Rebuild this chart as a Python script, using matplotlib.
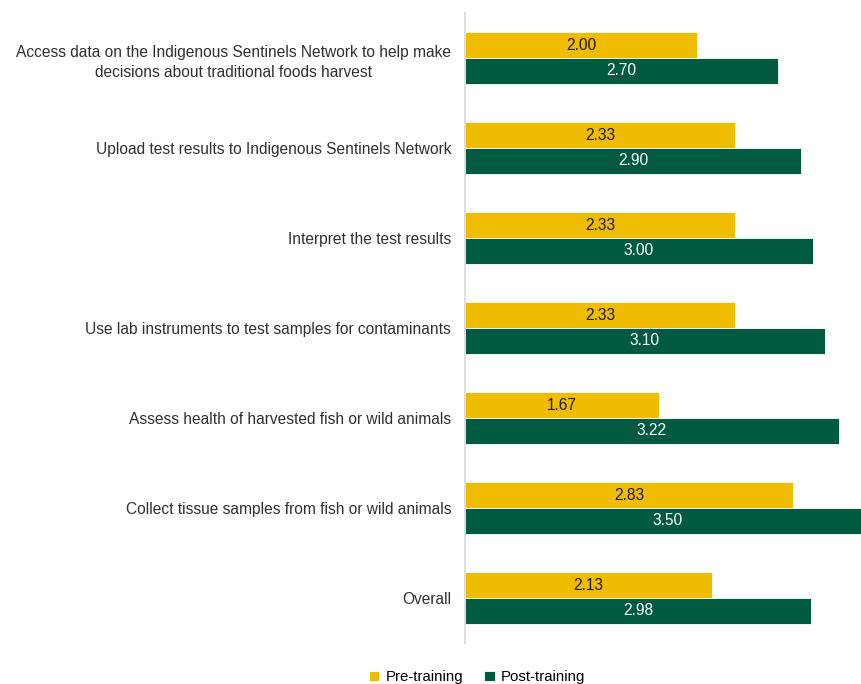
import numpy as np
import matplotlib.pyplot as plt

plt.rcParams['font.family'] = ['Liberation Sans', 'DejaVu Sans']

## the data
categories = ['Access data on the Indigenous Sentinels Network to help make\ndecisions about traditional foods harvest',
              'Upload test results to Indigenous Sentinels Network',
              'Interpret the test results',
              'Use lab instruments to test samples for contaminants',
              'Assess health of harvested fish or wild animals',
              'Collect tissue samples from fish or wild animals',
              'Overall']
pre = [2.00, 2.33, 2.33, 2.33, 1.67, 2.83, 2.13]
post = [2.70, 2.90, 3.00, 3.10, 3.22, 3.50, 2.98]

yellow = '#F0BC00'
green = '#005A3F'

fig = plt.figure(figsize=(8.62, 6.84), dpi=100)
ax = fig.add_axes([465/862, 41/684, 397/862, 630/684])

ind = np.arange(len(categories))
h = 0.285  # bar height

bar1 = ax.barh(ind - h/2, pre, h, color=yellow, edgecolor='white', linewidth=0.6, label='Pre-training')
bar2 = ax.barh(ind + h/2, post, h, color=green, edgecolor='white', linewidth=0.6, label='Post-training')

for b, v in zip(bar1, pre):
    ax.text(v/2, b.get_y() + b.get_height()/2, '%.2f' % v, ha='center', va='center',
            fontsize=11.2, color='#1a1a1a')
for b, v in zip(bar2, post):
    ax.text(v/2, b.get_y() + b.get_height()/2, '%.2f' % v, ha='center', va='center',
            fontsize=11.2, color='white')

# axes and labels
ax.set_xlim(0, 397/116.0)
ax.set_ylim(len(categories) - 0.5, -0.5)
ax.set_yticks(ind)
ax.set_yticklabels(categories, fontsize=11.2, color='#303030', ha='right',
                   multialignment='center', linespacing=1.45)
ax.tick_params(axis='y', length=0, pad=10)
ax.set_xticks([])
for s in ['top', 'right', 'bottom']:
    ax.spines[s].set_visible(False)
ax.spines['left'].set_color('#D9D9D9')
ax.spines['left'].set_linewidth(1.2)

## add a legend
fig.legend(handles=[bar1, bar2], loc='center', bbox_to_anchor=(477/862, 1 - 677/684),
           ncol=2, frameon=False, fontsize=10.8, handlelength=0.7, handleheight=0.7,
           handletextpad=0.4, columnspacing=1.4)

plt.savefig('out.png', dpi=100)
